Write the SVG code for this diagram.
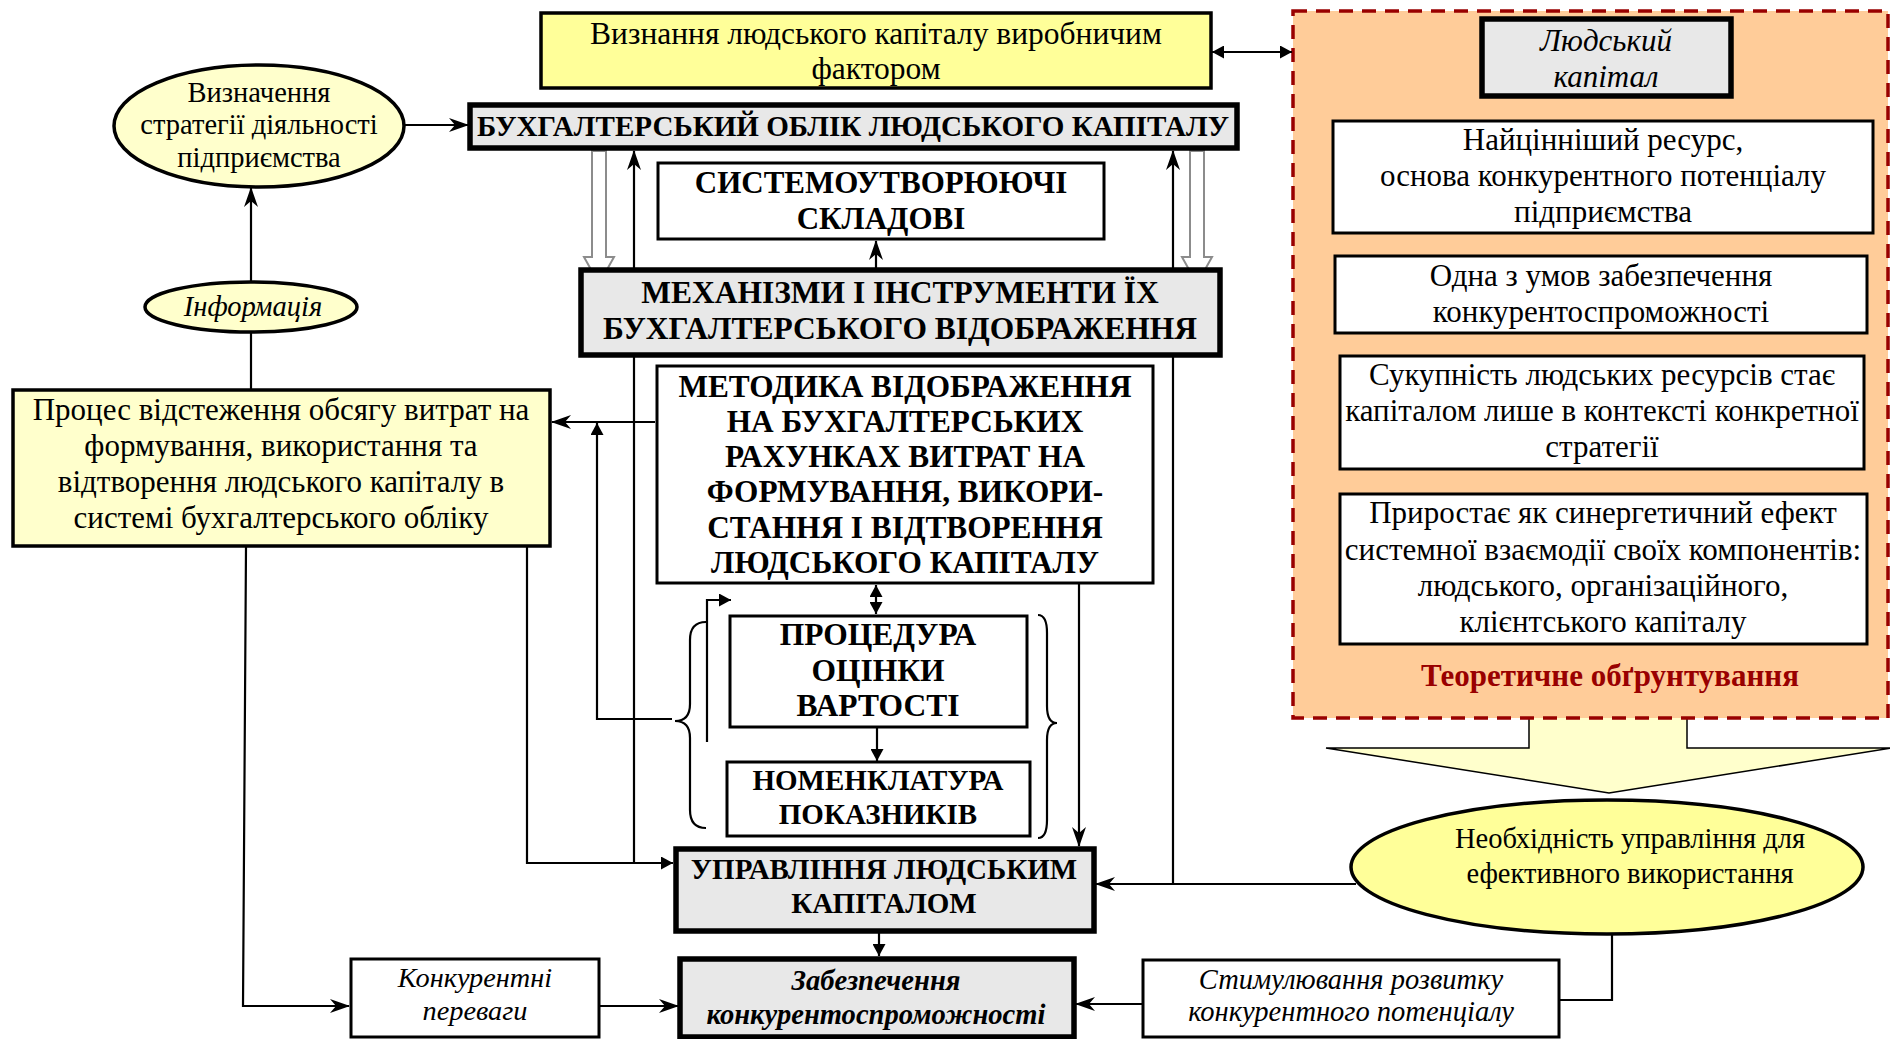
<svg xmlns="http://www.w3.org/2000/svg" width="1890" height="1039" viewBox="0 0 1890 1039">
<defs>
<style>
.t{font-family:"Liberation Serif","Times New Roman",serif;font-size:31px;text-anchor:middle;fill:#000}
.b{font-weight:bold}
.i{font-style:italic}
.bx{stroke:#000;stroke-width:3}
.tk{stroke:#000;stroke-width:5.5}
.ln{stroke:#000;stroke-width:2.2;fill:none}
.gray{fill:#E8E8E8}
.wh{fill:#FFFFFF}
.y1{fill:#FFFF99}
.y2{fill:#FFFFCC}
.hol{fill:#FFFFFF;stroke:#8C8C8C;stroke-width:2}
</style>
<marker id="st" viewBox="0 0 20 14" refX="19" refY="7" markerWidth="20" markerHeight="14" markerUnits="userSpaceOnUse" orient="auto-start-reverse">
<path d="M0,0 L20,7 L0,14 L6,7 Z" fill="#000"/>
</marker>
<marker id="tri" viewBox="0 0 12 13" refX="12" refY="6.5" markerWidth="12" markerHeight="13" markerUnits="userSpaceOnUse" orient="auto-start-reverse">
<path d="M0,0 L12,6.5 L0,13 Z" fill="#000"/>
</marker>
</defs>
<rect width="1890" height="1039" fill="#FFFFFF"/>

<g id="theory-arrow">
<path d="M1529,716 L1529,748 L1326,748 L1609,793 L1892,748 L1687,748 L1687,716 Z" fill="#FFFFCC"/>
<path d="M1529,716 L1529,748 L1326,748 L1609,793 L1892,748 L1687,748 L1687,716" fill="none" stroke="#000" stroke-width="1.5"/>
</g>

<g id="theory">
<rect x="1293" y="11" width="595" height="707" fill="#FFCC99" stroke="#990000" stroke-width="3.5" stroke-dasharray="14 9"/>
<text class="t b" x="1610" y="686" style="fill:#990000;font-size:31px">Теоретичне обґрунтування</text>
</g>

<g id="connectors">
<line class="ln" x1="1212" y1="52" x2="1292" y2="52" marker-start="url(#tri)" marker-end="url(#tri)"/>
<line class="ln" x1="404" y1="125" x2="468" y2="125" marker-end="url(#st)"/>
<line class="ln" x1="251" y1="282" x2="251" y2="188" marker-end="url(#st)"/>
<line class="ln" x1="251" y1="390" x2="251" y2="332"/>
<line class="ln" x1="634" y1="863" x2="634" y2="151" marker-end="url(#st)"/>
<line class="ln" x1="1173" y1="883" x2="1173" y2="151" marker-end="url(#st)"/>
<path class="hol" d="M592,151 L606,151 L606,257 L614,257 L599,284 L584,257 L592,257 Z"/>
<path class="hol" d="M1190,151 L1204,151 L1204,257 L1212,257 L1197,284 L1182,257 L1190,257 Z"/>
<line class="ln" x1="876" y1="268" x2="876" y2="241" marker-end="url(#st)"/>
<line class="ln" x1="655" y1="422" x2="552" y2="422" marker-end="url(#st)"/>
<polyline class="ln" points="672,719 597,719 597,423" marker-end="url(#tri)"/>
<line class="ln" x1="876" y1="585" x2="876" y2="614" marker-start="url(#tri)" marker-end="url(#tri)"/>
<line class="ln" x1="877" y1="728" x2="877" y2="761" marker-end="url(#tri)"/>
<polyline class="ln" points="707,742 707,600 731,600" marker-end="url(#tri)"/>
<line class="ln" x1="1079" y1="584" x2="1079" y2="846" marker-end="url(#st)"/>
<polyline class="ln" points="527,542 527,863 673,863" marker-end="url(#tri)"/>
<polyline class="ln" points="246,547 243,1006 349,1006" marker-end="url(#st)"/>
<line class="ln" x1="599" y1="1006" x2="678" y2="1006" marker-end="url(#st)"/>
<line class="ln" x1="879" y1="932" x2="879" y2="956" marker-end="url(#tri)"/>
<line class="ln" x1="1356" y1="884" x2="1096" y2="884" marker-end="url(#st)"/>
<polyline class="ln" points="1612,933 1612,1000 1559,1000"/>
<line class="ln" x1="1143" y1="1004" x2="1076" y2="1004" marker-end="url(#st)"/>
<path class="ln" d="M706,622 Q690,622 690,640 L690,704 Q690,721 675,721 Q690,721 690,738 L690,810 Q690,828 706,828"/>
<path class="ln" d="M1038,615 Q1047,615 1047,633 L1047,706 Q1047,723 1057,723 Q1047,723 1047,740 L1047,820 Q1047,838 1038,838"/>
</g>

<g id="recognition">
<rect class="y1" x="541" y="13" width="670" height="75" stroke="#000" stroke-width="3.5"/>
<text class="t" x="876" y="44" style="font-size:31.5px">Визнання людського капіталу  виробничим</text>
<text class="t" x="876" y="79" style="font-size:31.5px">фактором</text>
</g>

<g id="strategy">
<ellipse class="y2" cx="259" cy="126" rx="145" ry="61" stroke="#000" stroke-width="3.5"/>
<text class="t" x="259" y="102" style="font-size:28.5px">Визначення</text>
<text class="t" x="259" y="134" style="font-size:28.5px">стратегії діяльності</text>
<text class="t" x="259" y="167" style="font-size:28.5px">підприємства</text>
</g>

<g id="info">
<ellipse class="y2" cx="251" cy="307" rx="106" ry="25" stroke="#000" stroke-width="3.5"/>
<text class="t i" x="253" y="316" style="font-size:28.5px">Інформація</text>
</g>

<g id="accounting">
<rect class="gray tk" x="470" y="105" width="767" height="43"/>
<text class="t b" x="853" y="136" style="font-size:29px" textLength="752" lengthAdjust="spacingAndGlyphs">БУХГАЛТЕРСЬКИЙ ОБЛІК ЛЮДСЬКОГО КАПІТАЛУ</text>
</g>

<g id="system">
<rect class="wh bx" x="658" y="163" width="446" height="76"/>
<text class="t b" x="881" y="193">СИСТЕМОУТВОРЮЮЧІ</text>
<text class="t b" x="881" y="229">СКЛАДОВІ</text>
</g>

<g id="mechanisms">
<rect class="gray tk" x="581" y="270" width="639" height="85"/>
<text class="t b" x="900" y="303" style="font-size:31.5px">МЕХАНІЗМИ І ІНСТРУМЕНТИ ЇХ</text>
<text class="t b" x="900" y="339" style="font-size:31.5px">БУХГАЛТЕРСЬКОГО ВІДОБРАЖЕННЯ</text>
</g>

<g id="method">
<rect class="wh bx" x="657" y="366" width="496" height="217"/>
<text class="t b" x="905" y="397" style="font-size:31.3px">МЕТОДИКА ВІДОБРАЖЕННЯ</text>
<text class="t b" x="905" y="432" style="font-size:31.3px">НА БУХГАЛТЕРСЬКИХ</text>
<text class="t b" x="905" y="467" style="font-size:31.3px">РАХУНКАХ ВИТРАТ НА</text>
<text class="t b" x="905" y="502" style="font-size:31.3px">ФОРМУВАННЯ, ВИКОРИ-</text>
<text class="t b" x="905" y="538" style="font-size:31.3px">СТАННЯ І ВІДТВОРЕННЯ</text>
<text class="t b" x="905" y="573" style="font-size:31.3px">ЛЮДСЬКОГО КАПІТАЛУ</text>
</g>

<g id="process">
<rect class="y2" x="13" y="390" width="537" height="156" stroke="#000" stroke-width="3.5"/>
<text class="t" x="281" y="420">Процес відстеження обсягу витрат на</text>
<text class="t" x="281" y="456">формування, використання та</text>
<text class="t" x="281" y="492">відтворення людського капіталу в</text>
<text class="t" x="281" y="528">системі бухгалтерського обліку</text>
</g>

<g id="procedure">
<rect class="wh bx" x="730" y="616" width="297" height="111"/>
<text class="t b" x="878" y="645" style="font-size:31.5px">ПРОЦЕДУРА</text>
<text class="t b" x="878" y="681" style="font-size:31.5px">ОЦІНКИ</text>
<text class="t b" x="878" y="716" style="font-size:31.5px">ВАРТОСТІ</text>
</g>

<g id="nomenclature">
<rect class="wh bx" x="727" y="762" width="303" height="74"/>
<text class="t b" x="878" y="790" style="font-size:29px">НОМЕНКЛАТУРА</text>
<text class="t b" x="878" y="824" style="font-size:29px">ПОКАЗНИКІВ</text>
</g>

<g id="management">
<rect class="gray tk" x="676" y="849" width="418" height="82"/>
<text class="t b" x="884" y="879" style="font-size:29px">УПРАВЛІННЯ ЛЮДСЬКИМ</text>
<text class="t b" x="884" y="913" style="font-size:29px">КАПІТАЛОМ</text>
</g>

<g id="competitiveness">
<rect class="gray tk" x="680" y="959" width="394" height="78"/>
<text class="t b i" x="876" y="990" style="font-size:28.6px">Забезпечення</text>
<text class="t b i" x="876" y="1024" style="font-size:28.6px">конкурентоспроможності</text>
</g>

<g id="advantages">
<rect class="wh bx" x="351" y="959" width="248" height="78"/>
<text class="t i" x="475" y="987" style="font-size:28.3px">Конкурентні</text>
<text class="t i" x="475" y="1020" style="font-size:28.3px">переваги</text>
</g>

<g id="stimulation">
<rect class="wh bx" x="1143" y="960" width="416" height="77"/>
<text class="t i" x="1351" y="989" style="font-size:28.5px">Стимулювання розвитку</text>
<text class="t i" x="1351" y="1021" style="font-size:28.5px">конкурентного потенціалу</text>
</g>

<g id="necessity">
<ellipse class="y1" cx="1607" cy="867" rx="256" ry="67" stroke="#000" stroke-width="3.5"/>
<text class="t" x="1630" y="848" style="font-size:28.5px">Необхідність управління для</text>
<text class="t" x="1630" y="883" style="font-size:28.5px">ефективного використання</text>
</g>

<g id="human-capital">
<rect class="gray tk" x="1482" y="19" width="249" height="77"/>
<text class="t i" x="1606" y="51">Людський</text>
<text class="t i" x="1606" y="87">капітал</text>
</g>

<g id="valuable">
<rect class="wh bx" x="1333" y="121" width="540" height="112"/>
<text class="t" x="1603" y="150">Найцінніший ресурс,</text>
<text class="t" x="1603" y="186">основа конкурентного потенціалу</text>
<text class="t" x="1603" y="222">підприємства</text>
</g>

<g id="condition">
<rect class="wh bx" x="1335" y="256" width="532" height="77"/>
<text class="t" x="1601" y="286">Одна з умов забезпечення</text>
<text class="t" x="1601" y="322">конкурентоспроможності</text>
</g>

<g id="aggregate">
<rect class="wh bx" x="1340" y="356" width="524" height="113"/>
<text class="t" x="1602" y="385">Сукупність людських ресурсів стає</text>
<text class="t" x="1602" y="421">капіталом лише в контексті конкретної</text>
<text class="t" x="1602" y="457">стратегії</text>
</g>

<g id="synergy">
<rect class="wh bx" x="1340" y="494" width="527" height="150"/>
<text class="t" x="1603" y="523">Приростає як синергетичний ефект</text>
<text class="t" x="1603" y="560">системної взаємодії своїх компонентів:</text>
<text class="t" x="1603" y="596">людського, організаційного,</text>
<text class="t" x="1603" y="632">клієнтського капіталу</text>
</g>
</svg>
